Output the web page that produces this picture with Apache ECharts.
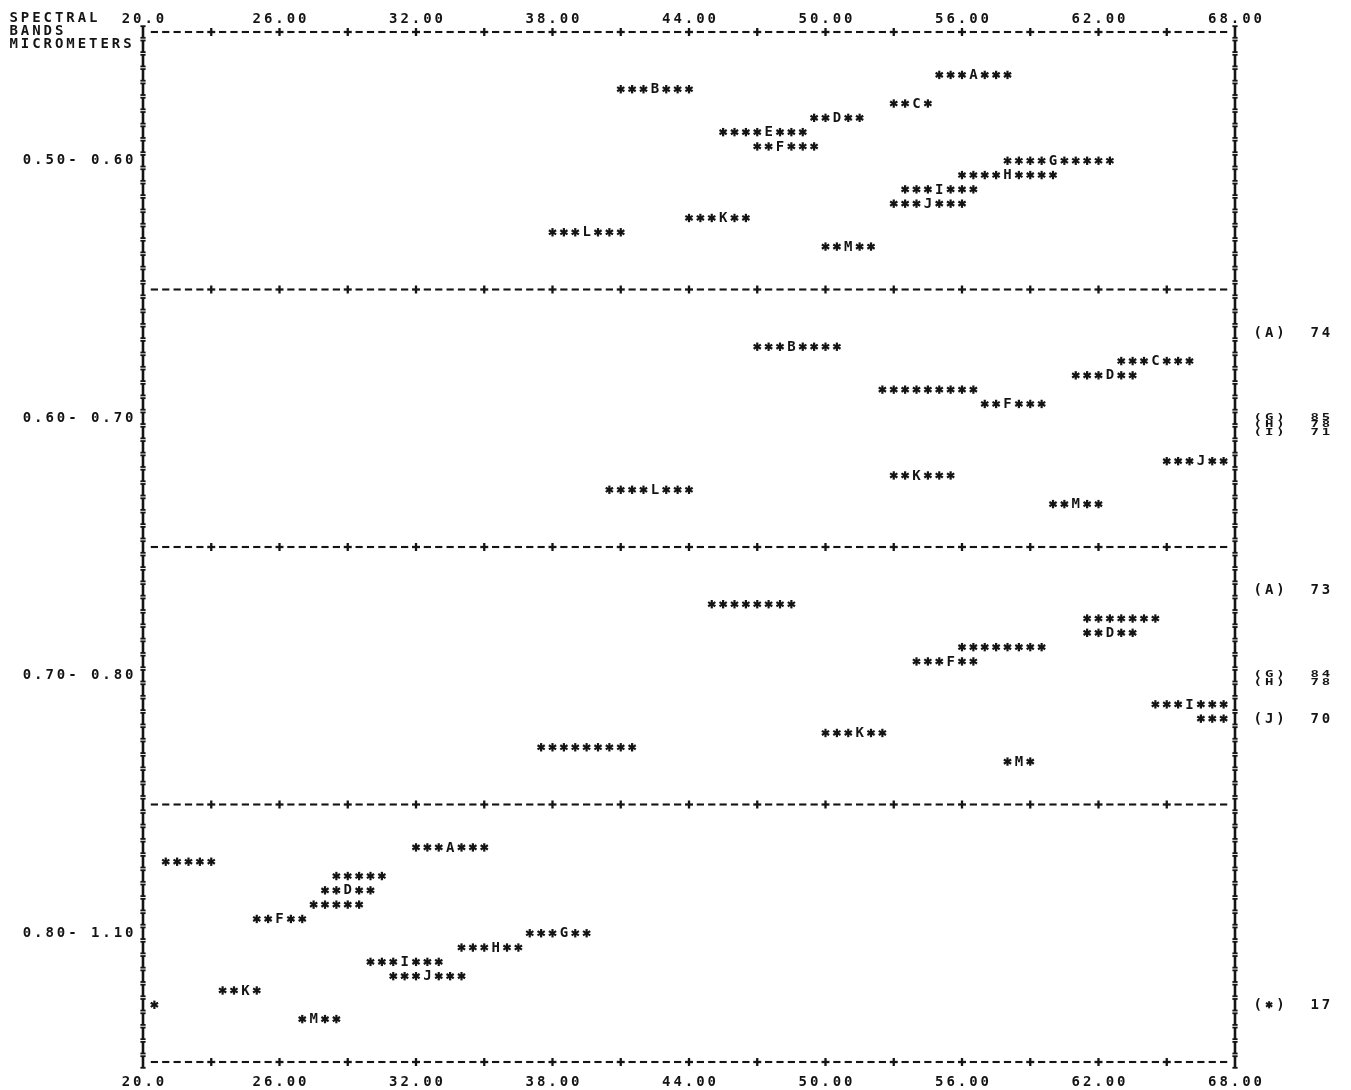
<!DOCTYPE html>
<html>
<head>
<meta charset="utf-8">
<script src="https://cdn.jsdelivr.net/npm/echarts@6.0.0/dist/echarts.min.js"></script>
<style>
html,body{margin:0;padding:0;background:#fff;}
#chart{width:1351px;height:1090px;}
</style>
</head>
<body>
<div id="chart"></div>
<script>
// ---------------- data ----------------
const xTicks = [20, 26, 32, 38, 44, 50, 56, 62, 68];
const xTickLabels = ['20.0', '26.00', '32.00', '38.00', '44.00', '50.00', '56.00', '62.00', '68.00'];
const bandLabels = ['0.50- 0.60', '0.60- 0.70', '0.70- 0.80', '0.80- 1.10'];
const headerLines = ['SPECTRAL', 'BANDS', 'MICROMETERS'];
const LINES_PER_BAND = 18;

// [letter, print line within band, low end, letter position (null = not printed), high end]
const band1 = [
  ['A', 3, 55, 56.5, 58],
  ['B', 4, 41, 42.5, 44],
  ['C', 5, 53, 54, 54.5],
  ['D', 6, 49.5, 50.5, 51.5],
  ['E', 7, 45.5, 47.5, 49],
  ['F', 8, 47, 48, 49.5],
  ['G', 9, 58, 60, 62.5],
  ['H', 10, 56, 58, 60],
  ['I', 11, 53.5, 55, 56.5],
  ['J', 12, 53, 54.5, 56],
  ['K', 13, 44, 45.5, 46.5],
  ['L', 14, 38, 39.5, 41],
  ['M', 15, 50, 51, 52]
];
const band2 = [
  ['B', 4, 47, 48.5, 50.5],
  ['C', 5, 63, 64.5, 66],
  ['D', 6, 61, 62.5, 63.5],
  ['E', 7, 52.5, null, 56.5],
  ['F', 8, 57, 58, 59.5],
  ['J', 12, 65, 66.5, 67.5],
  ['K', 13, 53, 54, 55.5],
  ['L', 14, 40.5, 42.5, 44],
  ['M', 15, 60, 61, 62]
];
const band3 = [
  ['B', 4, 45, null, 48.5],
  ['C', 5, 61.5, null, 64.5],
  ['D', 6, 61.5, 62.5, 63.5],
  ['E', 7, 56, null, 59.5],
  ['F', 8, 54, 55.5, 56.5],
  ['I', 11, 64.5, 66, 67.5],
  ['J', 12, 66.5, null, 67.5],
  ['K', 13, 50, 51.5, 52.5],
  ['L', 14, 37.5, null, 41.5],
  ['M', 15, 58, 58.5, 59]
];
const band4 = [
  ['A', 3, 32, 33.5, 35],
  ['B', 4, 21, null, 23],
  ['C', 5, 28.5, null, 30.5],
  ['D', 6, 28, 29, 30],
  ['E', 7, 27.5, null, 29.5],
  ['F', 8, 25, 26, 27],
  ['G', 9, 37, 38.5, 39.5],
  ['H', 10, 34, 35.5, 36.5],
  ['I', 11, 30, 31.5, 33],
  ['J', 12, 31, 32.5, 34],
  ['K', 13, 23.5, 24.5, 25],
  ['L', 14, 20.5, null, 20.5],
  ['M', 15, 27, 27.5, 28.5]
];
// off-scale values printed at the right: [letter, print line within band, value]
const offscale1 = [];
const offscale2 = [['A', 3, 74], ['G', 8.9, 85], ['H', 9.45, 78], ['I', 10.0, 71]];
const offscale3 = [['A', 3, 73], ['G', 8.9, 84], ['H', 9.45, 78], ['J', 12, 70]];
const offscale4 = [['*', 14, 17]];

// ---------------- build ----------------
const bands = [band1, band2, band3, band4];
const offs = [offscale1, offscale2, offscale3, offscale4];
const XMIN = xTicks[0], XMAX = xTicks[xTicks.length - 1];
const TOTAL_LINES = LINES_PER_BAND * bands.length;
const INK = '#141414';
const FONT = 'bold 14px "DejaVu Sans Mono", "Liberation Mono", monospace';

const marks = [];
bands.forEach((b, bi) => b.forEach(r => marks.push({
  letter: r[0], line: bi * LINES_PER_BAND + r[1], lo: r[2], mk: r[3], hi: r[4]
})));
const offMarks = [];
offs.forEach((b, bi) => b.forEach(r => {
  let gap = Infinity;
  b.forEach(o => { if (o !== r) gap = Math.min(gap, Math.abs(o[1] - r[1])); });
  offMarks.push({ letter: r[0], line: bi * LINES_PER_BAND + r[1], value: r[2],
                  squeeze: gap < 1 ? Math.max(0.62, gap * 1.15) : 1 });
}));
const frameLines = [];
for (let i = 0; i <= TOTAL_LINES; i++) frameLines.push(i);

function pitched(s) {
  return s.split('').map(ch => '{p|' + ch + '}').join('');
}
const pitchBase = { width: 11.375, align: 'center', fontFamily: '"DejaVu Sans Mono", monospace',
                    fontWeight: 'bold', fontSize: 14, color: INK };
const pitchRich = { p: Object.assign({}, pitchBase, { lineHeight: 14 }) };
const headRich = { p: Object.assign({}, pitchBase, { fontSize: 14, lineHeight: 13 }) };

function ln(x1, y1, x2, y2, w) {
  return { type: 'line', silent: true, shape: { x1, y1, x2, y2 },
           style: { stroke: INK, lineWidth: w || 2.1, lineCap: 'butt' } };
}
function starEls(cx, cy, r, w) {
  r = r || 4.2; w = w || 2.2;
  const dx = r * 0.866, dy = r * 0.5;
  return [ln(cx, cy - r, cx, cy + r, w), ln(cx - dx, cy - dy, cx + dx, cy + dy, w),
          ln(cx - dx, cy + dy, cx + dx, cy - dy, w)];
}
function textEl(ch, cx, cy, sy) {
  return { type: 'text', silent: true, x: cx, y: cy + 0.5, scaleX: 1, scaleY: sy || 1,
           style: { text: ch, x: 0, y: 0, align: 'center', verticalAlign: 'middle', font: FONT, fill: INK } };
}

function renderMarks(params, api) {
  const m = marks[params.dataIndex];
  const children = [];
  for (let x = m.lo; x <= m.hi + 1e-9; x += 0.5) {
    const p = api.coord([x, m.line]);
    const isLetter = m.mk !== null && Math.abs(x - m.mk) < 1e-6;
    if (isLetter) children.push(textEl(m.letter, p[0], p[1]));
    else starEls(p[0], p[1]).forEach(e => children.push(e));
  }
  return { type: 'group', children };
}

function renderOff(params, api) {
  const m = offMarks[params.dataIndex];
  const text = '(' + m.letter + ')  ' + String(m.value);
  const children = [];
  for (let i = 0; i < text.length; i++) {
    const p = api.coord([XMAX + 1 + i * 0.5, m.line]);
    if (text[i] === '*') {
      starEls(p[0], p[1], 3.6 * m.squeeze, 2).forEach(e => children.push(e));
    } else if (text[i] !== ' ') {
      children.push(textEl(text[i], p[0], p[1], m.squeeze));
    }
  }
  return { type: 'group', children };
}

function iGlyph(cx, cy) {
  return [ln(cx, cy - 6, cx, cy + 6, 2.6), ln(cx - 2.6, cy - 5.8, cx + 2.6, cy - 5.8, 1.8),
          ln(cx - 2.6, cy + 5.8, cx + 2.6, cy + 5.8, 1.8)];
}
function renderFrame(params, api) {
  const L = frameLines[params.dataIndex];
  const children = [];
  const pl = api.coord([XMIN, L]), pr = api.coord([XMAX, L]);
  iGlyph(pl[0], pl[1]).forEach(e => children.push(e));
  iGlyph(pr[0], pr[1]).forEach(e => children.push(e));
  if (L % LINES_PER_BAND === 0) {
    const nCols = (XMAX - XMIN) / 0.5;
    for (let k = 1; k < nCols; k++) {
      const p = api.coord([XMIN + k * 0.5, L]);
      if (k % 6 === 0) {
        children.push(ln(p[0] - 4, p[1], p[0] + 4, p[1], 2.3));
        children.push(ln(p[0], p[1] - 4, p[0], p[1] + 4, 2.3));
      } else {
        children.push(ln(p[0] - 3.6, p[1], p[0] + 3.6, p[1], 2.1));
      }
    }
  }
  return { type: 'group', children };
}

function xLabel(v) {
  const i = xTicks.indexOf(v);
  return i >= 0 ? pitched(xTickLabels[i]) : '';
}
function yLabel(v) {
  const half = LINES_PER_BAND / 2;
  if ((v - half) % LINES_PER_BAND === 0) {
    const bi = (v - half) / LINES_PER_BAND;
    return bandLabels[bi] ? pitched(bandLabels[bi]) : '';
  }
  return '';
}

const chart = echarts.init(document.getElementById('chart'), null, { renderer: 'canvas' });
const xCommon = {
  type: 'value', min: XMIN, max: XMAX, interval: 6,
  axisLine: { show: false }, axisTick: { show: false }, splitLine: { show: false },
  axisLabel: { formatter: xLabel, rich: pitchRich, showMinLabel: true, showMaxLabel: true }
};
chart.setOption({
  animation: false,
  backgroundColor: '#ffffff',
  title: headerLines.map((t, i) => ({
    text: pitched(t),
    left: 8, top: 11.5 + i * 13.2, padding: 0,
    textStyle: { rich: headRich }
  })),
  grid: { left: 143, right: 116, top: 32, bottom: 28, containLabel: false, outerBoundsMode: 'none' },
  xAxis: [
    Object.assign({}, xCommon, { position: 'bottom', axisLabel: Object.assign({}, xCommon.axisLabel, { margin: 13 }) }),
    Object.assign({}, xCommon, { position: 'top', axisLabel: Object.assign({}, xCommon.axisLabel, { margin: 6 }) })
  ],
  yAxis: {
    type: 'value', min: 0, max: TOTAL_LINES, interval: LINES_PER_BAND / 2, inverse: true,
    axisLine: { show: false }, axisTick: { show: false }, splitLine: { show: false },
    axisLabel: { formatter: yLabel, rich: pitchRich, margin: 8, align: 'right' }
  },
  series: [
    {
      type: 'custom', name: 'frame', clip: false, silent: true,
      renderItem: renderFrame,
      encode: { x: 0, y: 1 },
      data: frameLines.map(L => [XMIN, L])
    },
    {
      type: 'custom', name: 'ranges', clip: false, silent: true,
      renderItem: renderMarks,
      encode: { x: 0, y: 1 },
      data: marks.map(m => [m.lo, m.line])
    },
    {
      type: 'custom', name: 'offscale', clip: false, silent: true,
      renderItem: renderOff,
      encode: { x: 0, y: 1 },
      data: offMarks.map(m => [XMAX, m.line])
    }
  ]
});
</script>
</body>
</html>
